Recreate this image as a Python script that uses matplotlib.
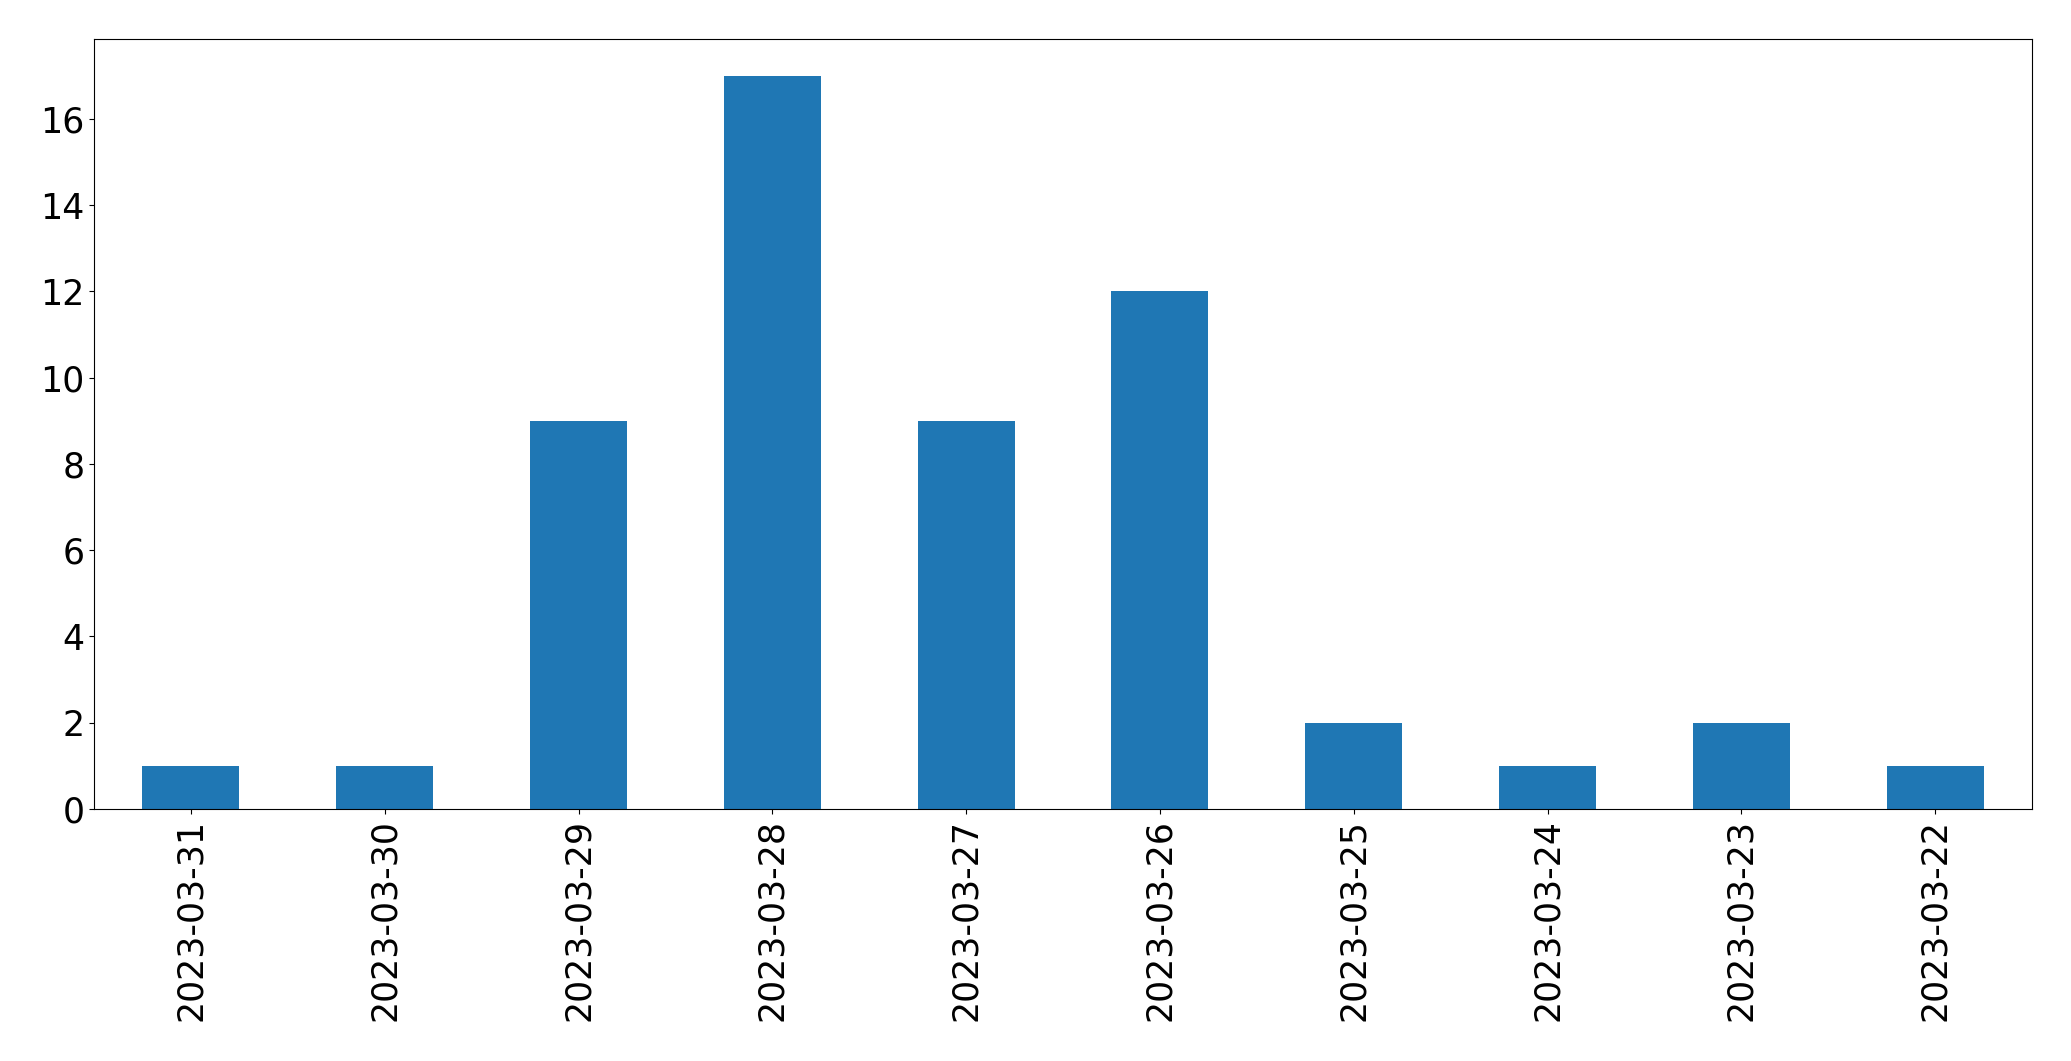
import matplotlib
matplotlib.use('Agg')
import matplotlib.pyplot as plt

dates = ['2023-03-31', '2023-03-30', '2023-03-29', '2023-03-28', '2023-03-27',
         '2023-03-26', '2023-03-25', '2023-03-24', '2023-03-23', '2023-03-22']
counts = [1, 1, 9, 17, 9, 12, 2, 1, 2, 1]

fig, ax = plt.subplots(figsize=(20.71, 10.61), dpi=100)
fig.subplots_adjust(left=94 / 2071, right=2032 / 2071, top=1 - 39 / 1061, bottom=1 - 809 / 1061)

x = range(len(dates))
ax.bar(x, counts, width=0.5, color='#1f77b4')
ax.set_xlim(-0.5, len(dates) - 0.5)
ax.set_ylim(0, max(counts) * 1.05)
ax.set_xticks(list(x))
ax.set_xticklabels(dates, rotation=90)
ax.tick_params(labelsize=25)

plt.savefig('out.png', dpi=100)
plt.close()
